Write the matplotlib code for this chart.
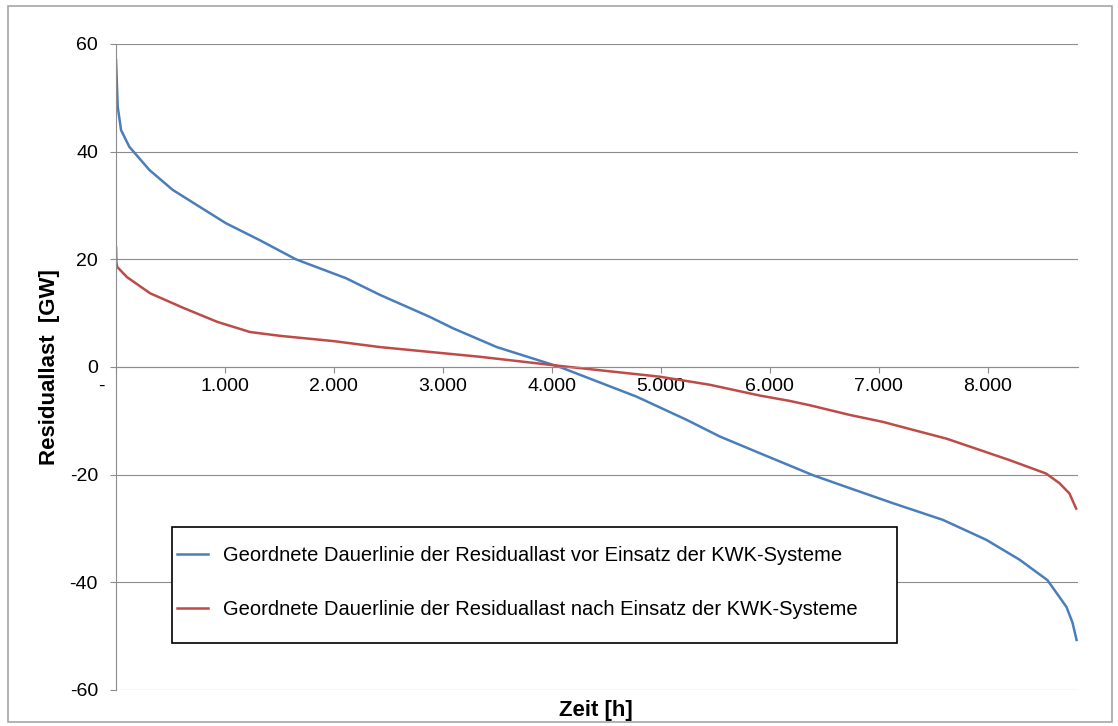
import numpy as np
import matplotlib.pyplot as plt
from matplotlib.patches import Rectangle

plt.rcParams['font.family'] = ['Liberation Sans', 'DejaVu Sans']
plt.rcParams['axes.unicode_minus'] = False

# Geordnete Dauerlinie vor Einsatz der KWK-Systeme
hours_vor = [0, 15, 46, 122, 306, 520, 764, 1009, 1315, 1651, 2110, 2422, 2881,
             3092, 3495, 4073, 4777, 5236, 5541, 5908, 6397, 6734, 7131, 7590,
             7988, 8294, 8550, 8725, 8780, 8817]
last_vor = [57.0, 48.4, 44.0, 40.9, 36.6, 32.9, 29.8, 26.7, 23.6, 20.0, 16.5, 13.4,
            9.3, 7.2, 3.7, 0.0, -5.5, -9.8, -12.9, -16.0, -20.1, -22.5, -25.3,
            -28.4, -32.1, -35.8, -39.6, -44.6, -47.5, -50.7]

# Geordnete Dauerlinie nach Einsatz der KWK-Systeme
hours_nach = [0, 3, 10, 100, 312, 615, 927, 1229, 1500, 2000, 2422, 3339, 4073,
              4991, 5450, 5908, 6183, 6367, 6734, 7040, 7376, 7621, 7927, 8202, 8538,
              8661, 8752, 8813]
last_nach = [22.2, 19.5, 18.6, 16.7, 13.7, 11.0, 8.4, 6.5, 5.8, 4.8, 3.7, 1.9, 0.2,
             -1.8, -3.3, -5.3, -6.3, -7.1, -8.9, -10.2, -12.0, -13.3, -15.4, -17.3, -19.8,
             -21.6, -23.5, -26.3]

x_ticks = [0, 1000, 2000, 3000, 4000, 5000, 6000, 7000, 8000]
x_labels = ['-     ', '1.000', '2.000', '3.000', '4.000', '5.000', '6.000', '7.000', '8.000']
y_ticks = [-60, -40, -20, 0, 20, 40, 60]

fig = plt.figure(figsize=(11.18, 7.26), dpi=100)
ax = fig.add_axes([0.1038, 0.0496, 0.8604, 0.8898])

# Rahmen um die ganze Grafik
fig.patches.append(Rectangle((0.007, 0.006), 0.988, 0.986, transform=fig.transFigure,
                             fill=False, edgecolor='#a6a6a6', linewidth=1.2))

ax.plot(hours_vor, last_vor, color='#4a7ebb', linewidth=1.8,
        label='Geordnete Dauerlinie der Residuallast vor Einsatz der KWK-Systeme')
ax.plot(hours_nach, last_nach, color='#be4b48', linewidth=1.8,
        label='Geordnete Dauerlinie der Residuallast nach Einsatz der KWK-Systeme')

ax.set_xlim(0, 8830)
ax.set_ylim(-60, 60)

ax.set_yticks(y_ticks)
ax.set_xticks(x_ticks)
ax.set_xticklabels(x_labels)
ax.yaxis.grid(True, color='#8c8c8c', linewidth=0.8)
ax.set_axisbelow(True)

for s in ['top', 'right']:
    ax.spines[s].set_visible(False)
ax.spines['bottom'].set_position(('data', 0))
ax.spines['bottom'].set_color('#8c8c8c')
ax.spines['left'].set_color('#8c8c8c')
ax.tick_params(axis='x', direction='out', length=4, color='#8c8c8c', pad=4, labelsize=14)
ax.tick_params(axis='y', direction='out', length=4, color='#8c8c8c', pad=9, labelsize=14)

ax.set_ylabel('Residuallast  [GW]', fontsize=16, fontweight='bold')
ax.yaxis.set_label_coords(-0.058, 0.5)
ax.set_xlabel('Zeit [h]', fontsize=16, fontweight='bold')
ax.xaxis.set_label_coords(0.499, -0.015)

# Legende mit eigenem Rahmen
ax.add_patch(Rectangle((0.0582, 0.0728), 0.7536, 0.1796, transform=ax.transAxes,
                       facecolor='white', edgecolor='black', linewidth=1.2, zorder=4))
leg = ax.legend(loc='center left', bbox_to_anchor=(0.0634, 0.1664), frameon=False,
                fontsize=14.5, handlelength=1.55, handletextpad=0.75, labelspacing=1.75,
                borderpad=0, borderaxespad=0)
leg.set_zorder(5)

fig.savefig('out.png', dpi=100)
